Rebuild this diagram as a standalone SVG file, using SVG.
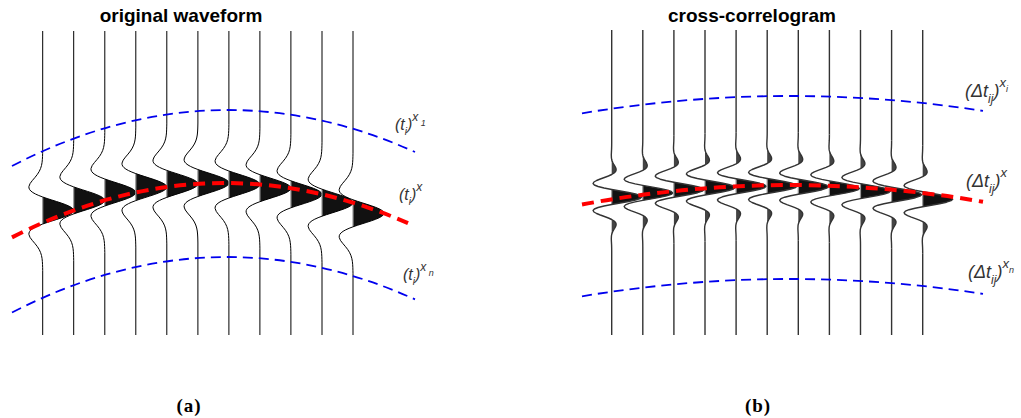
<svg xmlns="http://www.w3.org/2000/svg" xmlns:xlink="http://www.w3.org/1999/xlink" width="1021" height="418" viewBox="0 0 1021 418">
<style>
.title{font-family:"Liberation Sans",Arial,sans-serif;font-weight:bold;font-size:19px;fill:#000;text-anchor:middle}
.cap{font-family:"Liberation Serif","Times New Roman",serif;font-weight:bold;font-size:19px;fill:#000;text-anchor:middle;letter-spacing:1px}
.lblL{font-family:"Liberation Sans",Arial,sans-serif;font-style:italic;font-size:16px;fill:#333}
.lblR{font-family:"Liberation Sans",Arial,sans-serif;font-style:italic;font-size:18px;fill:#333}
.trA{fill:none;stroke:#000;stroke-width:1;stroke-linejoin:round}
.trB{fill:none;stroke:#333;stroke-width:1.4;stroke-linejoin:round}
.fl{fill:#111;stroke:none}
.fl2{fill:#444;stroke:none}
.blue{fill:none;stroke:#0000ee;stroke-width:1.8;stroke-dasharray:10 6}
.red{fill:none;stroke:#ff0000;stroke-width:4;stroke-dasharray:12 7}
.gl{stroke:#999;stroke-width:1.2}
</style>
<defs>
<path id="waveA" d="M0,-60 L-0.07,-57 L-0.16,-54 L-0.33,-51 L-0.65,-48 L-1.21,-45 L-2.13,-42 L-3.52,-39 L-5.42,-36 L-7.78,-33 L-10.34,-30 L-12.6,-27 L-13.79,-24 L-13.74,-22.5 L-13.12,-21 L-11.86,-19.5 L-9.9,-18 L-7.24,-16.5 L-3.91,-15 L0,-13.5 L4.4,-12 L9.07,-10.5 L13.8,-9 L18.38,-7.5 L22.54,-6 L26.07,-4.5 L28.75,-3 L30.43,-1.5 L31,0 L30.43,1.5 L28.75,3 L26.07,4.5 L22.54,6 L18.38,7.5 L13.8,9 L9.07,10.5 L4.4,12 L0,13.5 L-3.91,15 L-7.24,16.5 L-9.9,18 L-11.86,19.5 L-13.12,21 L-13.74,22.5 L-13.79,24 L-12.6,27 L-10.34,30 L-7.78,33 L-5.42,36 L-3.52,39 L-2.13,42 L-1.21,45 L-0.65,48 L-0.33,51 L-0.16,54 L-0.07,57 L0,60"/>
<path id="fillA" d="M0,-13.5 L4.4,-12 L9.07,-10.5 L13.8,-9 L18.38,-7.5 L22.54,-6 L26.07,-4.5 L28.75,-3 L30.43,-1.5 L31,0 L30.43,1.5 L28.75,3 L26.07,4.5 L22.54,6 L18.38,7.5 L13.8,9 L9.07,10.5 L4.4,12 L0,13.5 Z"/>
<path id="waveB" d="M0,-54 L-0.03,-51 L-0.11,-48 L-0.27,-45 L-0.4,-42 L-0.27,-39 L0,-37.5 L0.45,-36 L1.1,-34.5 L1.91,-33 L2.82,-31.5 L3.67,-30 L4.29,-28.5 L4.43,-27 L3.87,-25.5 L2.42,-24 L0,-22.5 L-3.31,-21 L-7.26,-19.5 L-11.4,-18 L-15.12,-16.5 L-17.75,-15 L-18.65,-13.5 L-17.34,-12 L-13.63,-10.5 L-7.67,-9 L0,-7.5 L8.52,-6 L16.82,-4.5 L23.77,-3 L28.38,-1.5 L30,0 L28.38,1.5 L23.77,3 L16.82,4.5 L8.52,6 L0,7.5 L-7.67,9 L-13.63,10.5 L-17.34,12 L-18.65,13.5 L-17.75,15 L-15.12,16.5 L-11.4,18 L-7.26,19.5 L-3.31,21 L0,22.5 L2.42,24 L3.87,25.5 L4.43,27 L4.29,28.5 L3.67,30 L2.82,31.5 L1.91,33 L1.1,34.5 L0.45,36 L0,37.5 L-0.27,39 L-0.4,42 L-0.27,45 L-0.11,48 L-0.03,51 L0,54"/>
<path id="fillB" d="M0,-7.5 L8.52,-6 L16.82,-4.5 L23.77,-3 L28.38,-1.5 L30,0 L28.38,1.5 L23.77,3 L16.82,4.5 L8.52,6 L0,7.5 Z"/>
<path id="sideB" d="M0,-37.5 L0.45,-36 L1.1,-34.5 L1.91,-33 L2.82,-31.5 L3.67,-30 L4.29,-28.5 L4.43,-27 L3.87,-25.5 L2.42,-24 L0,-22.5 Z M0,22.5 L2.42,24 L3.87,25.5 L4.43,27 L4.29,28.5 L3.67,30 L2.82,31.5 L1.91,33 L1.1,34.5 L0.45,36 L0,37.5 Z"/>
<g id="tA"><use xlink:href="#fillA" href="#fillA" class="fl"/><line class="gl" x1="0" y1="-13" x2="0" y2="13"/><use xlink:href="#waveA" href="#waveA" class="trA"/></g>
<g id="tB"><use xlink:href="#fillB" href="#fillB" class="fl"/><use xlink:href="#sideB" href="#sideB" class="fl2"/><line class="gl" x1="0" y1="-7" x2="0" y2="7"/><use xlink:href="#waveB" href="#waveB" class="trB"/></g>
</defs>

<text class="title" x="181" y="22">original waveform</text>
<text class="title" x="752" y="22">cross-correlogram</text>

<g id="panel-a">
<g id="a1"><path class="trA" d="M42.7,31 V150.5 M42.7,270.5 V335"/><use href="#tA" xlink:href="#tA" transform="translate(42.7,210.5)"/></g>
<g id="a2"><path class="trA" d="M73.7,31 V140.4 M73.7,260.4 V335"/><use href="#tA" xlink:href="#tA" transform="translate(73.7,200.4)"/></g>
<g id="a3"><path class="trA" d="M104.8,31 V132.5 M104.8,252.5 V335"/><use href="#tA" xlink:href="#tA" transform="translate(104.8,192.5)"/></g>
<g id="a4"><path class="trA" d="M135.8,31 V127.1 M135.8,247.1 V335"/><use href="#tA" xlink:href="#tA" transform="translate(135.8,187.1)"/></g>
<g id="a5"><path class="trA" d="M166.8,31 V123.9 M166.8,243.9 V335"/><use href="#tA" xlink:href="#tA" transform="translate(166.8,183.9)"/></g>
<g id="a6"><path class="trA" d="M197.9,31 V123 M197.9,243 V335"/><use href="#tA" xlink:href="#tA" transform="translate(197.9,183)"/></g>
<g id="a7"><path class="trA" d="M228.9,31 V124.5 M228.9,244.5 V335"/><use href="#tA" xlink:href="#tA" transform="translate(228.9,184.5)"/></g>
<g id="a8"><path class="trA" d="M259.9,31 V128.2 M259.9,248.2 V335"/><use href="#tA" xlink:href="#tA" transform="translate(259.9,188.2)"/></g>
<g id="a9"><path class="trA" d="M290.9,31 V134.3 M290.9,254.3 V335"/><use href="#tA" xlink:href="#tA" transform="translate(290.9,194.3)"/></g>
<g id="a10"><path class="trA" d="M322,31 V142.7 M322,262.7 V335"/><use href="#tA" xlink:href="#tA" transform="translate(322,202.7)"/></g>
<g id="a11"><path class="trA" d="M353,31 V153.3 M353,273.3 V335"/><use href="#tA" xlink:href="#tA" transform="translate(353,213.3)"/></g>
</g>

<g id="panel-b">
<g id="b1"><path class="trB" d="M611.7,30 V143 M611.7,251 V335"/><use href="#tB" xlink:href="#tB" transform="translate(611.7,197)"/></g>
<g id="b2"><path class="trB" d="M642.8,30 V138.9 M642.8,246.9 V335"/><use href="#tB" xlink:href="#tB" transform="translate(642.8,192.9)"/></g>
<g id="b3"><path class="trB" d="M673.9,30 V135.7 M673.9,243.7 V335"/><use href="#tB" xlink:href="#tB" transform="translate(673.9,189.7)"/></g>
<g id="b4"><path class="trB" d="M705,30 V133.5 M705,241.5 V335"/><use href="#tB" xlink:href="#tB" transform="translate(705,187.5)"/></g>
<g id="b5"><path class="trB" d="M736.1,30 V132.3 M736.1,240.3 V335"/><use href="#tB" xlink:href="#tB" transform="translate(736.1,186.3)"/></g>
<g id="b6"><path class="trB" d="M767.2,30 V132 M767.2,240 V335"/><use href="#tB" xlink:href="#tB" transform="translate(767.2,186)"/></g>
<g id="b7"><path class="trB" d="M798.3,30 V132.7 M798.3,240.7 V335"/><use href="#tB" xlink:href="#tB" transform="translate(798.3,186.7)"/></g>
<g id="b8"><path class="trB" d="M829.4,30 V134.4 M829.4,242.4 V335"/><use href="#tB" xlink:href="#tB" transform="translate(829.4,188.4)"/></g>
<g id="b9"><path class="trB" d="M860.5,30 V137.1 M860.5,245.1 V335"/><use href="#tB" xlink:href="#tB" transform="translate(860.5,191.1)"/></g>
<g id="b10"><path class="trB" d="M891.6,30 V140.7 M891.6,248.7 V335"/><use href="#tB" xlink:href="#tB" transform="translate(891.6,194.7)"/></g>
<g id="b11"><path class="trB" d="M922.7,30 V145.2 M922.7,253.2 V335"/><use href="#tB" xlink:href="#tB" transform="translate(922.7,199.2)"/></g>
</g>

<g id="connectors">
<path class="blue" d="M12,166 Q213.5,61.5 415,152"/>
<path class="blue" d="M12,312.5 Q213.5,208.5 415,299.4"/>
<path class="red" d="M12,237.4 Q210,136.2 408,223.2"/>
<path class="blue" d="M582,113.3 Q782.5,79.9 983,110.9"/>
<path class="blue" d="M582,296.3 Q782.5,262.9 983,293.9"/>
<path class="red" d="M582,204.5 Q782.5,167 983,201.8"/>
</g>

<g id="labels">
<text class="lblL" x="395" y="130">(t<tspan font-size="10" dy="5">i</tspan><tspan dy="-5">)</tspan><tspan font-size="12" dy="-9">x</tspan><tspan font-size="9" dy="5"> 1</tspan></text>
<text class="lblL" x="399" y="200">(t<tspan font-size="10" dy="5">i</tspan><tspan dy="-5">)</tspan><tspan font-size="12" dy="-9">x</tspan></text>
<text class="lblL" x="403" y="280">(t<tspan font-size="10" dy="5">i</tspan><tspan dy="-5">)</tspan><tspan font-size="12" dy="-9">x</tspan><tspan font-size="9" dy="5"> n</tspan></text>
<text class="lblR" x="965" y="97">(Δt<tspan font-size="12" dy="6">ij</tspan><tspan dy="-6">)</tspan><tspan font-size="13" dy="-10">x</tspan><tspan font-size="9" dy="5">i</tspan></text>
<text class="lblR" x="966" y="187">(Δt<tspan font-size="12" dy="6">ij</tspan><tspan dy="-6">)</tspan><tspan font-size="13" dy="-10">x</tspan></text>
<text class="lblR" x="968" y="278">(Δt<tspan font-size="12" dy="6">ij</tspan><tspan dy="-6">)</tspan><tspan font-size="13" dy="-10">x</tspan><tspan font-size="9" dy="5">n</tspan></text>
</g>

<text class="cap" x="189" y="412">(a)</text>
<text class="cap" x="758" y="412">(b)</text>
</svg>
